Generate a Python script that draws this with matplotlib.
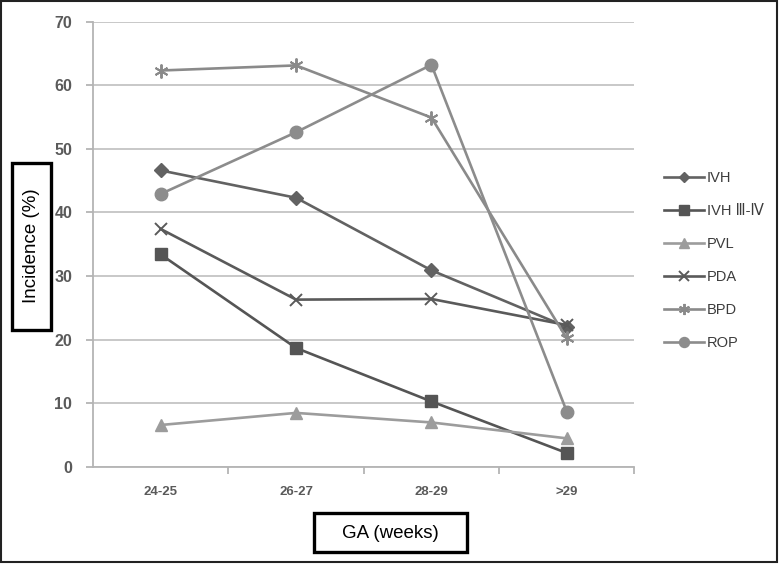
"""Incidence of complications by gestational age group."""

import matplotlib
matplotlib.use("Agg")
import matplotlib.pyplot as plt
from matplotlib.patches import Rectangle

plt.rcParams["font.family"] = ["Liberation Sans", "DejaVu Sans"]

# Data
ga_groups = ["24-25", "26-27", "28-29", ">29"]
ivh = [46.6, 42.3, 30.9, 22.0]
ivh_severe = [33.4, 18.7, 10.3, 2.2]
pvl = [6.6, 8.5, 7.0, 4.5]
pda = [37.4, 26.3, 26.4, 22.3]
bpd = [62.3, 63.1, 54.9, 20.2]
rop = [42.9, 52.6, 63.2, 8.7]
y_ticks = [0, 10, 20, 30, 40, 50, 60, 70]

series = [
    ("IVH", ivh, "#626262", "D", 7),
    ("IVH Ⅲ-Ⅳ", ivh_severe, "#555555", "s", 9),
    ("PVL", pvl, "#9c9c9c", "^", 9),
    ("PDA", pda, "#5a5a5a", "x", 9),
    ("BPD", bpd, "#8a8a8a", (6, 2, 0), 10),
    ("ROP", rop, "#8c8c8c", "o", 9),
]

W, H = 779, 566
fig = plt.figure(figsize=(W / 100, H / 100), dpi=100)
ax = fig.add_axes([93 / W, 1 - 467 / H, (634.5 - 93) / W, (467 - 21.5) / H])

x = range(len(ga_groups))
for label, values, color, marker, ms in series:
    ax.plot(x, values, color=color, lw=1.9, marker=marker, markersize=ms,
            markeredgewidth=1.4 if marker in ("x", (6, 2, 0)) else 1,
            markerfacecolor=color, markeredgecolor=color, label=label,
            clip_on=False, zorder=3)

ax.set_xlim(-0.5, len(ga_groups) - 0.5)
ax.set_ylim(0, 70)
ax.set_yticks(y_ticks)
ax.set_xticks(list(x))
ax.set_xticklabels(ga_groups)
ax.set_xticks([0.5, 1.5, 2.5, 3.5], minor=True)
ax.yaxis.grid(True, color="#c4c4c4", lw=1.3)
ax.set_axisbelow(True)
for side in ("top", "right"):
    ax.spines[side].set_visible(False)
for side in ("left", "bottom"):
    ax.spines[side].set_color("#b4b4b4")
    ax.spines[side].set_linewidth(1.3)
ax.tick_params(axis="y", length=5, width=1.3, color="#b4b4b4", pad=10,
               labelsize=11.5, labelcolor="#5a5a5a")
ax.tick_params(axis="x", which="major", length=0, pad=14,
               labelsize=9.5, labelcolor="#5a5a5a")
ax.tick_params(axis="x", which="minor", length=5, width=1.3, color="#b4b4b4")
for lab in ax.get_xticklabels() + ax.get_yticklabels():
    lab.set_fontweight("bold")

leg = fig.legend(loc="upper left", bbox_to_anchor=(657 / W, 1 - 164 / H),
                 frameon=False, fontsize=10.5, handlelength=2.7,
                 handletextpad=0.2, labelspacing=1.3, borderpad=0,
                 markerscale=0.8)
for txt in leg.get_texts():
    txt.set_color("#3c3c3c")

# Boxed axis titles
fig.patches.append(Rectangle((12 / W, 1 - 330 / H), 39 / W, 167 / H,
                             transform=fig.transFigure, fill=False,
                             lw=2.4, ec="black"))
fig.text(32 / W, 1 - 246 / H, "Incidence (%)", rotation=90, ha="center",
         va="center", fontsize=13.5, color="black")
fig.patches.append(Rectangle((314 / W, 1 - 552 / H), 153 / W, 39 / H,
                             transform=fig.transFigure, fill=False,
                             lw=2.4, ec="black"))
fig.text(390 / W, 1 - 533 / H, "GA (weeks)", ha="center", va="center",
         fontsize=13.5, color="black")

# Outer frame
fig.patches.append(Rectangle((1 / W, 1 - 562 / H), 776 / W, 561 / H,
                             transform=fig.transFigure, fill=False,
                             lw=1.5, ec="#222222"))

fig.savefig("out.png", dpi=100)
